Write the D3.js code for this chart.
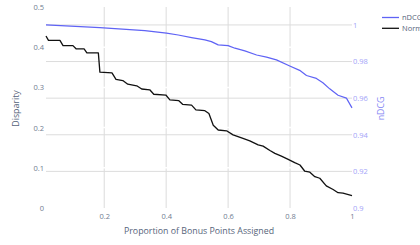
<!DOCTYPE html>
<html>
<head>
    <meta http-equiv="Content-Type" content="text/html;charset=utf-8">
    <script src="https://d3js.org/d3.v7.min.js"></script>
    <style>
        html, body {
            margin: 0;
            padding: 0;
            width: 420px;
            height: 245px;
            overflow: hidden;
            background: #fff;
            font-family: "Open Sans", sans-serif;
        }

        #chart, svg {
            margin: 0;
            padding: 0;
            display: block;
        }
    </style>
</head>
<body>
<div id="chart"></div>
<script>
    // Normalized disparity (left axis)
    var dispX = [0.012, 0.020, 0.057, 0.067, 0.099, 0.109, 0.135, 0.144, 0.181, 0.186,
        0.225, 0.238, 0.260, 0.276, 0.305, 0.321, 0.347, 0.360, 0.399, 0.412,
        0.441, 0.453, 0.482, 0.496, 0.525, 0.538, 0.552, 0.568, 0.595, 0.616,
        0.648, 0.670, 0.697, 0.713, 0.735, 0.751, 0.772, 0.794, 0.815, 0.832,
        0.847, 0.864, 0.880, 0.896, 0.917, 0.939, 0.955, 0.971, 1.0];
    var dispY = [0.428, 0.417, 0.417, 0.404, 0.404, 0.396, 0.396, 0.386, 0.386, 0.338,
        0.336, 0.320, 0.317, 0.308, 0.304, 0.296, 0.294, 0.283, 0.281, 0.269,
        0.267, 0.258, 0.256, 0.244, 0.242, 0.235, 0.206, 0.194, 0.192, 0.182,
        0.173, 0.167, 0.157, 0.154, 0.143, 0.136, 0.129, 0.121, 0.113, 0.107,
        0.092, 0.089, 0.078, 0.074, 0.055, 0.046, 0.038, 0.037, 0.031];

    // nDCG (right axis)
    var ndcgX = [0.012, 0.186, 0.331, 0.401, 0.439, 0.482, 0.525, 0.546, 0.568, 0.600,
        0.622, 0.654, 0.692, 0.724, 0.756, 0.799, 0.831, 0.853, 0.885, 0.906,
        0.928, 0.955, 0.982, 1.0];
    var ndcgY = [1.0000, 0.9985, 0.9969, 0.9955, 0.9945, 0.9931, 0.9918, 0.9909, 0.9891, 0.9887,
        0.9873, 0.9858, 0.9836, 0.9824, 0.9809, 0.9776, 0.9752, 0.9724, 0.9708, 0.9684,
        0.9651, 0.9616, 0.9600, 0.9547];

    var xTicks = [0.2, 0.4, 0.6, 0.8, 1];
    var yTicks = [0, 0.1, 0.2, 0.3, 0.4, 0.5];
    var y2Ticks = [0.9, 0.92, 0.94, 0.96, 0.98, 1];
    var seriesNames = ["nDCG", "Normalized Disparity"];

    var W = 420, H = 245,
        plotL = 46, plotR = 352, plotT = 7, plotB = 208;

    var blue = "#5f63f5",
        tickColor = "#6f7c90",
        titleColor = "#56647a";

    var svg = d3.select("#chart").append("svg")
        .attr("width", W)
        .attr("height", H);

    var x = d3.scaleLinear().domain([0.012, 1]).range([plotL, plotR]);
    var y = d3.scaleLinear().domain([0, 0.5]).range([plotB, plotT]);
    var y2 = d3.scaleLinear().domain([0.9, 1.0098]).range([plotB, plotT]);

    // grid: vertical x grid, right-axis grid, then white left-axis grid on top
    var grid = svg.append("g");
    grid.selectAll("line.gx")
        .data(xTicks.filter(function (d) { return d < 1; }))
        .enter().append("line")
        .attr("x1", function (d) { return x(d); })
        .attr("x2", function (d) { return x(d); })
        .attr("y1", plotT).attr("y2", plotB)
        .attr("stroke", "#dcdcdc").attr("stroke-width", 1);
    grid.selectAll("line.gy2")
        .data(y2Ticks.filter(function (d) { return d > 0.9; }))
        .enter().append("line")
        .attr("x1", plotL).attr("x2", plotR)
        .attr("y1", function (d) { return y2(d); })
        .attr("y2", function (d) { return y2(d); })
        .attr("stroke", "#dcdcdc").attr("stroke-width", 1);
    grid.selectAll("line.gy")
        .data(yTicks.filter(function (d) { return d > 0 && d < 0.5; }))
        .enter().append("line")
        .attr("x1", plotL).attr("x2", plotR)
        .attr("y1", function (d) { return y(d); })
        .attr("y2", function (d) { return y(d); })
        .attr("stroke", "#fff").attr("stroke-width", 1.5);

    // axes
    var xAxis = svg.append("g")
        .attr("transform", "translate(0," + (plotB + 2) + ")")
        .call(d3.axisBottom(x).tickValues(xTicks).tickSize(0).tickPadding(4)
            .tickFormat(d3.format("~g")));
    var yAxis = svg.append("g")
        .attr("transform", "translate(" + (plotL - 2) + ",0)")
        .call(d3.axisLeft(y).tickValues(yTicks).tickSize(0).tickPadding(0)
            .tickFormat(d3.format("~g")));
    var y2Axis = svg.append("g")
        .attr("transform", "translate(" + plotR + ",0)")
        .call(d3.axisRight(y2).tickValues(y2Ticks).tickSize(0).tickPadding(1)
            .tickFormat(d3.format("~g")));

    [xAxis, yAxis, y2Axis].forEach(function (a) {
        a.select(".domain").remove();
        a.selectAll("text")
            .style("font-family", "'Open Sans', sans-serif")
            .style("font-size", "7.5px");
    });
    xAxis.selectAll("text").attr("fill", tickColor);
    yAxis.selectAll("text").attr("fill", tickColor);
    y2Axis.selectAll("text").attr("fill", "#a3a4f8");

    // lines
    var dispData = dispX.map(function (d, i) { return [d, dispY[i]]; });
    var ndcgData = ndcgX.map(function (d, i) { return [d, ndcgY[i]]; });

    svg.append("path")
        .datum(ndcgData)
        .attr("fill", "none")
        .attr("stroke", blue)
        .attr("stroke-width", 1.2)
        .attr("stroke-linejoin", "round")
        .attr("d", d3.line()
            .x(function (d) { return x(d[0]); })
            .y(function (d) { return y2(d[1]); }));

    svg.append("path")
        .datum(dispData)
        .attr("fill", "none")
        .attr("stroke", "#111")
        .attr("stroke-width", 1.3)
        .attr("stroke-linejoin", "round")
        .attr("d", d3.line()
            .x(function (d) { return x(d[0]); })
            .y(function (d) { return y(d[1]); }));

    // titles
    svg.append("text")
        .attr("x", (plotL + plotR) / 2)
        .attr("y", 234)
        .attr("text-anchor", "middle")
        .attr("fill", titleColor)
        .style("font-size", "8.8px")
        .text("Proportion of Bonus Points Assigned");

    svg.append("text")
        .attr("transform", "translate(19," + ((plotT + plotB) / 2 + 1) + ") rotate(-90)")
        .attr("text-anchor", "middle")
        .attr("fill", titleColor)
        .style("font-size", "8.8px")
        .text("Disparity");

    svg.append("text")
        .attr("transform", "translate(383.5," + ((plotT + plotB) / 2 + 1) + ") rotate(-90)")
        .attr("text-anchor", "middle")
        .attr("fill", "#8486f4")
        .style("font-size", "8.8px")
        .text("nDCG");

    // legend
    var legend = svg.append("g").attr("transform", "translate(382,17.5)");
    var item = legend.selectAll("g")
        .data(seriesNames)
        .enter().append("g")
        .attr("transform", function (d, i) { return "translate(0," + (i * 10.8) + ")"; });
    item.append("line")
        .attr("x1", 0).attr("x2", 17)
        .attr("stroke", function (d, i) { return i === 0 ? blue : "#111"; })
        .attr("stroke-width", 1.3);
    item.append("text")
        .attr("x", 20)
        .attr("y", 2.8)
        .attr("fill", titleColor)
        .style("font-size", "7.5px")
        .text(function (d) { return d; });
</script>
</body>
</html>
